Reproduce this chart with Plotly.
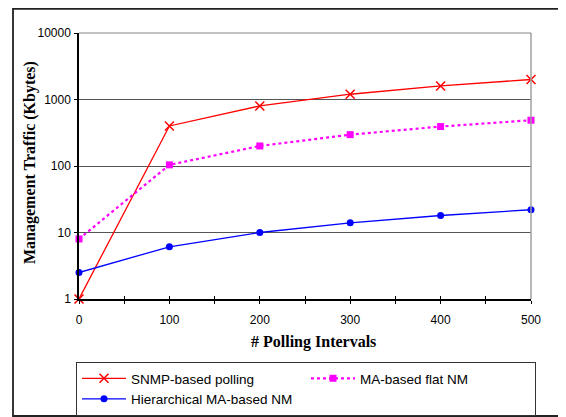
import plotly.graph_objects as go

intervals = [0, 100, 200, 300, 400, 500]
snmp_polling = [1, 400, 800, 1200, 1600, 2000]
ma_flat = [8, 104, 200, 296, 392, 488]
ma_hier = [2.5, 6.1, 10, 14, 18, 22]

y_tickvals = [1, 10, 100, 1000, 10000]
y_ticktext = ["1", "10", "100", "1000", "10000"]
x_tickvals = [0, 100, 200, 300, 400, 500]

# page has an 8px body margin; size the figure so it fits the 566x417 window
OFF = 8
W, H = 566 - OFF, 417 - OFF
L, T = 79 - OFF, 33 - OFF
R, B = 35, 118
pw, ph = W - L - R, H - T - B

def px(x):  # x in window pixels -> paper
    return (x - OFF - L) / pw

def py(y):  # y in window pixels -> paper
    return (H - B - (y - OFF)) / ph

fig = go.Figure()
fig.add_trace(go.Scatter(
    x=intervals, y=snmp_polling, name="SNMP-based polling", mode="lines+markers",
    line=dict(color="#ff0000", width=1.3),
    marker=dict(symbol="x-thin", size=9, line=dict(color="#ff0000", width=1.5)),
    cliponaxis=False))
fig.add_trace(go.Scatter(
    x=intervals, y=ma_flat, name="MA-based flat NM", mode="lines+markers",
    line=dict(color="#ff00ff", width=2.2, dash="dot"),
    marker=dict(symbol="square", size=7, color="#ff00ff"),
    cliponaxis=False))
fig.add_trace(go.Scatter(
    x=intervals, y=ma_hier, name="Hierarchical MA-based NM", mode="lines+markers",
    line=dict(color="#0000ff", width=1.3),
    marker=dict(symbol="circle", size=7, color="#0000ff"),
    cliponaxis=False))

# overlay axis for ticks crossing the x axis line
fig.add_trace(go.Scatter(x=[0, 500], y=[1, 1], xaxis="x2", mode="none",
                         showlegend=False, hoverinfo="skip"))

fig.update_layout(
    width=W, height=H,
    margin=dict(l=L, r=R, t=T, b=B, autoexpand=False),
    paper_bgcolor="white", plot_bgcolor="white",
    font=dict(family="Liberation Sans, Arial", size=12, color="black"),
    showlegend=True,
    legend=dict(
        orientation="h", x=px(76), y=py(362), xanchor="left", yanchor="top",
        entrywidth=170, entrywidthmode="pixels",
        bordercolor="#333333", borderwidth=1, bgcolor="white",
        font=dict(family="Liberation Sans, Arial", size=13.5),
        tracegroupgap=0, itemwidth=44,
    ),
    xaxis=dict(
        range=[0, 500], tickvals=x_tickvals, showgrid=False, zeroline=False,
        showline=True, linecolor="black", linewidth=1.5,
        ticks="outside", ticklen=3, tickcolor="black", tickwidth=1,
        minor=dict(dtick=50, ticks="outside", ticklen=3, tickcolor="black", tickwidth=1),
        tickfont=dict(size=12), ticklabelstandoff=6,
    ),
    xaxis2=dict(
        range=[0, 500], overlaying="x", anchor="y", side="bottom",
        showgrid=False, zeroline=False, showticklabels=False, showline=False,
        ticks="inside", ticklen=3, tickcolor="black", tickwidth=1, dtick=50, tick0=0,
    ),
    yaxis=dict(
        type="log", range=[0, 4], tickvals=y_tickvals, ticktext=y_ticktext,
        showgrid=True, gridcolor="#555555", gridwidth=1, zeroline=False,
        showline=True, linecolor="black", linewidth=1.5,
        ticks="outside", ticklen=3, tickcolor="black",
        tickfont=dict(size=12), ticklabelstandoff=1,
    ),
    shapes=[
        dict(type="line", xref="paper", yref="paper", x0=1, x1=1, y0=0, y1=1,
             line=dict(color="#a0a0a0", width=1.5)),
        dict(type="line", xref="paper", yref="paper", x0=0, x1=1, y0=1, y1=1,
             line=dict(color="#888888", width=1.2)),
        dict(type="rect", xref="paper", yref="paper", x0=px(13), x1=px(590),
             y0=py(416), y1=py(8.9), line=dict(color="#222222", width=1.8),
             fillcolor="rgba(0,0,0,0)", layer="below"),
    ],
    annotations=[
        dict(text="<b># Polling Intervals</b>", xref="paper", yref="paper",
             x=px(313), y=py(342), xanchor="center", yanchor="middle", showarrow=False,
             font=dict(family="Liberation Serif, Times New Roman", size=16)),
        dict(text="<b>Management Traffic (Kbytes)</b>", xref="paper", yref="paper",
             x=px(30), y=py(163), xanchor="center", yanchor="middle",
             showarrow=False, textangle=-90,
             font=dict(family="Liberation Serif, Times New Roman", size=16)),
    ],
)

fig.write_html("out.html")
